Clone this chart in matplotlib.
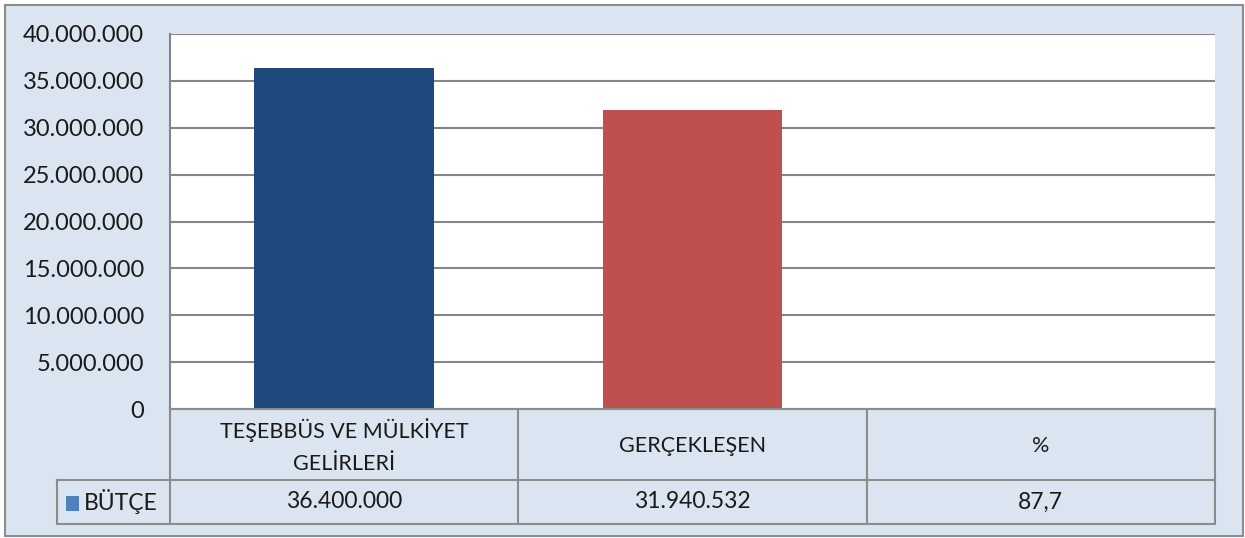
import matplotlib
matplotlib.use("Agg")
import matplotlib.pyplot as plt
from matplotlib.patches import Rectangle
from matplotlib.lines import Line2D

categories = ["TEŞEBBÜS VE MÜLKİYET\nGELİRLERİ", "GERÇEKLEŞEN", "%"]
values = [36400000, 31940532, 87.7]
value_labels = ["36.400.000", "31.940.532", "87,7"]
series_name = "BÜTÇE"
bar_colors = ["#1F497D", "#C0504D", "#4F81BD"]
legend_color = "#4F81BD"
yticks = [0, 5000000, 10000000, 15000000, 20000000, 25000000, 30000000, 35000000, 40000000]

W, H = 1245, 538
plt.rcParams['font.family'] = ['Lato', 'DejaVu Sans']
FS = 15.5
fig = plt.figure(figsize=(W / 100, H / 100), dpi=100)
fig.patch.set_facecolor("white")

bg = "#DBE5F1"
line_col = "#868686"
fig.patches.append(Rectangle((5 / W, 1 - 536 / H), (1243 - 5) / W, (536 - 5) / H,
                             transform=fig.transFigure, facecolor=bg,
                             edgecolor="#8C8C8C", linewidth=1.5, zorder=-10))

L, R, T, B = 170, 1215, 34, 409
ax = fig.add_axes([L / W, 1 - B / H, (R - L) / W, (B - T) / H])
ax.set_facecolor("white")
x = list(range(len(categories)))
ax.bar(x, values, width=0.515, color=bar_colors, zorder=3)
ax.set_xlim(-0.5, len(categories) - 0.5)
ax.set_ylim(0, 40000000)
ax.set_yticks(yticks)
ax.set_yticklabels([f"{v:,}".replace(",", ".") for v in yticks], fontsize=17, color="#1A1A1A")
ax.tick_params(axis="y", length=0, pad=18.5)
ax.set_xticks([])
ax.grid(axis="y", color=line_col, linewidth=1.5, zorder=1)
ax.set_axisbelow(True)
for s in ["top", "right", "bottom"]:
    ax.spines[s].set_visible(False)
ax.spines["left"].set_color(line_col)
ax.spines["left"].set_linewidth(1.5)

def fx(px):
    return px / W
def fy(py):
    return 1 - py / H

tcol = "#8C8C8C"
lw = 1.5
col_edges = [L + (R - L) * i / len(categories) for i in range(len(categories) + 1)]
row_top, row_mid, row_bot = B, 480, 524
leg_left = 57
for (y0, xa, xb) in [(row_top, L, R), (row_mid, leg_left, R), (row_bot, leg_left, R)]:
    fig.add_artist(Line2D([fx(xa), fx(xb)], [fy(y0), fy(y0)], color=tcol, lw=lw,
                          transform=fig.transFigure))
for xe in col_edges:
    fig.add_artist(Line2D([fx(xe), fx(xe)], [fy(row_top), fy(row_bot)], color=tcol, lw=lw,
                          transform=fig.transFigure))
fig.add_artist(Line2D([fx(leg_left), fx(leg_left)], [fy(row_mid), fy(row_bot)], color=tcol,
                      lw=lw, transform=fig.transFigure))

for i, (cat, val) in enumerate(zip(categories, value_labels)):
    cx = (col_edges[i] + col_edges[i + 1]) / 2
    fig.text(fx(cx), fy((row_top + row_mid) / 2 + 2), cat, ha="center", va="center",
             fontsize=FS, color="#1A1A1A", linespacing=1.75)
    fig.text(fx(cx), fy((row_mid + row_bot) / 2), val, ha="center", va="center",
             fontsize=16.5, color="#1A1A1A")

fig.patches.append(Rectangle((fx(66), fy(511)), 13 / W, 15 / H, transform=fig.transFigure,
                             facecolor=legend_color, edgecolor="none"))
fig.text(fx(84), fy((row_mid + row_bot) / 2), series_name, ha="left", va="center",
         fontsize=16.5, color="#1A1A1A")

fig.savefig("out.png", dpi=100, facecolor=fig.get_facecolor())
